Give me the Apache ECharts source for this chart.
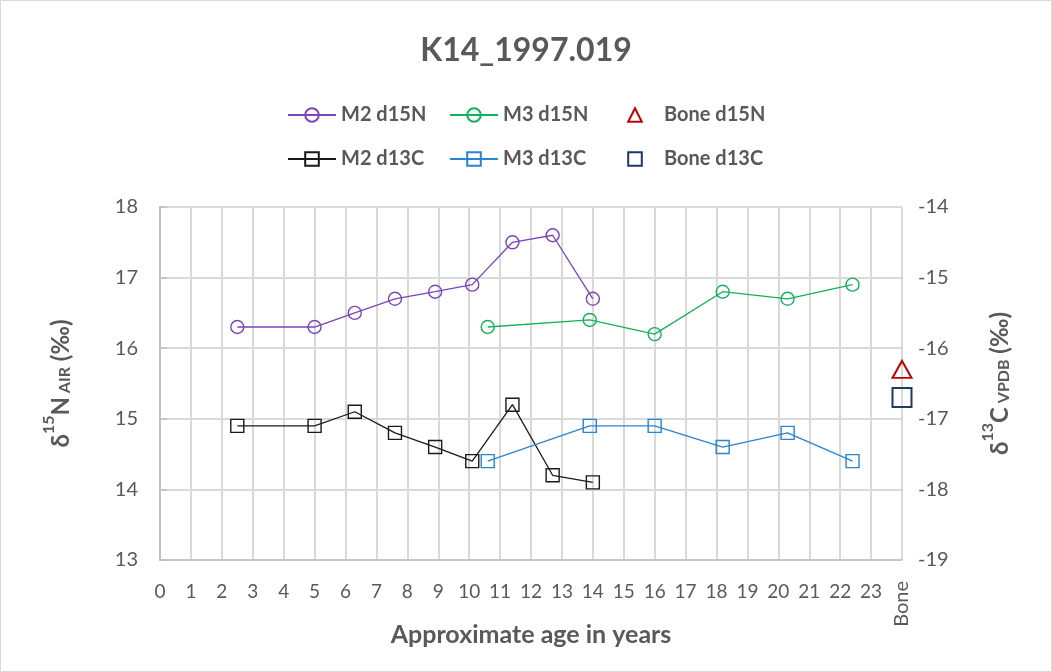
<!DOCTYPE html>
<html>
<head>
<meta charset="utf-8">
<script src="https://cdn.jsdelivr.net/npm/echarts@6/dist/echarts.min.js"></script>
<style>
  html, body { margin: 0; padding: 0; background: #fff; }
  #chart { width: 1052px; height: 672px; }
</style>
</head>
<body>
<div id="chart"></div>
<script>
// Approximate age (years) and isotope values per sample
const m2Age   = [2.5, 5.0, 6.3, 7.6, 8.9, 10.1, 11.4, 12.7, 14.0];
const m2N15   = [16.3, 16.3, 16.5, 16.7, 16.8, 16.9, 17.5, 17.6, 16.7];
const m2C13   = [-17.1, -17.1, -16.9, -17.2, -17.4, -17.6, -16.8, -17.8, -17.9];

const m3Age   = [10.6, 13.9, 16.0, 18.2, 20.3, 22.4];
const m3N15   = [16.3, 16.4, 16.2, 16.8, 16.7, 16.9];
const m3C13   = [-17.6, -17.1, -17.1, -17.4, -17.2, -17.6];

// Bone is placed in its own slot after the last age tick
const boneSlot = 24;
const boneN15  = 15.7;
const boneC13  = -16.7;

const xTicks = [0, 1, 2, 3, 4, 5, 6, 7, 8, 9, 10, 11, 12, 13, 14, 15, 16, 17, 18, 19, 20, 21, 22, 23];
const boneTickLabel = 'Bone';

// Legend layout: two rows of three columns
const legendRows = [
  ['M2 d15N', 'M3 d15N', 'Bone d15N'],
  ['M2 d13C', 'M3 d13C', 'Bone d13C']
];

const FONT = 'Lato, "Noto Sans", sans-serif';
const GREY = '#595959';
const CLEAR = 'rgba(255,255,255,0)';

function pairs(xs, ys) { return xs.map((x, i) => [x, ys[i]]); }

function lineSeries(name, xs, ys, color, symbol, yAxisIndex) {
  return {
    name, type: 'line', xAxisIndex: 0, yAxisIndex,
    data: pairs(xs, ys),
    symbol, symbolSize: 13,
    showAllSymbol: true,
    lineStyle: { color, width: 1.3 },
    itemStyle: { color: CLEAR, borderColor: color, borderWidth: 1.4 },
    emphasis: { disabled: true }
  };
}

// Single bone reading: marker only, no connecting line
function boneSeries(name, value, color, symbol, size, yAxisIndex) {
  return {
    name, type: 'line', xAxisIndex: 0, yAxisIndex,
    data: [[boneSlot, value]],
    symbol, symbolSize: size,
    lineStyle: { color: CLEAR, width: 0, opacity: 0 },
    itemStyle: { color: CLEAR, borderColor: color, borderWidth: 2 },
    emphasis: { disabled: true }
  };
}

// One legend block per entry so the columns line up on a fixed pitch
const legends = [];
legendRows.forEach((row, r) => {
  row.forEach((name, c) => {
    legends.push({
      left: 282 + 162 * c, top: 100 + 44 * r,
      itemWidth: 48, itemHeight: 17, itemGap: 0,
      data: [name],
      textStyle: { fontFamily: FONT, fontSize: 20, fontWeight: 'bold', color: GREY },
      selectedMode: false
    });
  });
});

const nameRich = {
  d:   { fontFamily: FONT, fontSize: 24, fontWeight: 'bold', color: GREY, lineHeight: 32, verticalAlign: 'bottom' },
  sup: { fontFamily: FONT, fontSize: 16, fontWeight: 'bold', color: GREY, lineHeight: 32, verticalAlign: 'top' },
  sub: { fontFamily: FONT, fontSize: 16, fontWeight: 'bold', color: GREY, lineHeight: 32, verticalAlign: 'bottom' }
};

const chart = echarts.init(document.getElementById('chart'), null, { renderer: 'canvas' });

chart.setOption({
  backgroundColor: '#fff',
  animation: false,
  title: {
    text: 'K14_1997.019', left: 'center', top: 30,
    textStyle: { fontFamily: FONT, fontSize: 32, fontWeight: 'bold', color: GREY }
  },
  legend: legends,
  grid: { left: 160, right: 150, top: 207, bottom: 112, containLabel: false },
  xAxis: [
    {
      type: 'value', min: 0, max: boneSlot, interval: 1,
      name: 'Approximate age in years', nameLocation: 'middle', nameGap: 62,
      nameTextStyle: { fontFamily: FONT, fontSize: 25, fontWeight: 'bold', color: GREY },
      axisLine: { show: true, lineStyle: { color: '#BFBFBF', width: 1.5 } },
      axisTick: { show: false },
      axisLabel: {
        margin: 22, fontFamily: FONT, fontSize: 19, color: GREY,
        formatter: v => (xTicks.indexOf(v) >= 0 ? String(v) : '')
      },
      splitLine: { show: true, lineStyle: { color: '#D9D9D9', width: 2 } }
    },
    {
      type: 'value', min: 0, max: boneSlot, interval: boneSlot, position: 'bottom',
      axisLine: { show: false }, axisTick: { show: false }, splitLine: { show: false },
      axisLabel: {
        rotate: 90, margin: 21, fontFamily: FONT, fontSize: 20, color: GREY,
        formatter: v => (v === boneSlot ? boneTickLabel : '')
      }
    }
  ],
  yAxis: [
    {
      type: 'value', min: 13, max: 18, interval: 1, position: 'left',
      name: '{d|δ}{sup|15}{d|N}{sub| AIR}{d| (‰)}',
      nameLocation: 'middle', nameGap: 87, nameRotate: 90,
      nameTextStyle: { rich: nameRich },
      axisLine: { show: true, lineStyle: { color: '#BFBFBF', width: 1.5 } },
      axisTick: { show: false },
      axisLabel: { margin: 22, fontFamily: FONT, fontSize: 20, color: GREY },
      splitLine: { show: true, lineStyle: { color: '#D9D9D9', width: 2 } }
    },
    {
      type: 'value', min: -19, max: -14, interval: 1, position: 'right',
      name: '{d|δ}{sup|13}{d|C}{sub| VPDB}{d| (‰)}',
      nameLocation: 'middle', nameGap: 78, nameRotate: 90,
      nameTextStyle: { rich: nameRich },
      axisLine: { show: true, lineStyle: { color: '#BFBFBF', width: 1.5 } },
      axisTick: { show: true, inside: false, length: 7, lineStyle: { color: '#BFBFBF', width: 1.5 } },
      axisLabel: { margin: 16, fontFamily: FONT, fontSize: 20, color: GREY },
      splitLine: { show: false }
    }
  ],
  series: [
    lineSeries('M2 d15N', m2Age, m2N15, '#7B44B8', 'circle', 0),
    lineSeries('M3 d15N', m3Age, m3N15, '#13B25A', 'circle', 0),
    boneSeries('Bone d15N', boneN15, '#C00000', 'triangle', [19, 17], 0),
    lineSeries('M2 d13C', m2Age, m2C13, '#1A1A1A', 'rect', 1),
    lineSeries('M3 d13C', m3Age, m3C13, '#2A85D0', 'rect', 1),
    boneSeries('Bone d13C', boneC13, '#203864', 'rect', 19, 1)
  ],
  graphic: [
    {
      type: 'rect', silent: true, z: -1,
      shape: { x: 0.5, y: 0.5, width: 1051, height: 671 },
      style: { fill: 'none', stroke: '#D9D9D9', lineWidth: 1 }
    }
  ]
});
</script>
</body>
</html>
